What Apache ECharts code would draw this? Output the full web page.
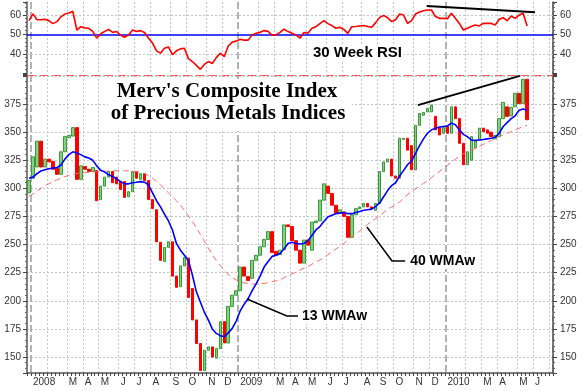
<!DOCTYPE html>
<html><head><meta charset="utf-8">
<script src="https://cdn.jsdelivr.net/npm/echarts@6/dist/echarts.min.js"></script>
<style>html,body{margin:0;padding:0;background:#fff}#c{width:583px;height:391px}</style>
</head><body><div id="c"></div>
<script>
// ---- data ----
const weekCount = 132;               // weekly slots, first slot = week ending 2007-12-28
const firstWeek = [2007, 11, 28];
const monthLabels = [[1,'2008'],[10,'M'],[14,'A'],[18,'M'],[23,'J'],[27,'J'],[31,'A'],[36,'S'],[40,'O'],[45,'N'],[49,'D'],
  [53,'2009'],[62,'M'],[66,'A'],[70,'M'],[75,'J'],[79,'J'],[84,'A'],[88,'S'],[92,'O'],[97,'N'],[101,'D'],
  [105,'2010'],[114,'M'],[118,'A'],[123,'M'],[127,'J']];
const monthStarts = [5,10,14,18,23,27,31,36,40,45,49,58,62,66,70,75,79,84,88,92,97,101,110,114,118,123,127,131];
const yearStarts = [1,53,105];
const priceLabels = [150,175,200,225,250,275,300,325,350,375];
const rsiLabels = [40,50,60];
const rsiGrid = [40,60];
const rsiMid = 50;

const opens = [296,309,319,342,319,326,324,318,312.5,332.5,345,346.5,354,308,319.5,317,315,316,290,302,310,315,310,306,
  306,292.5,297,315,308,313,307,290,281,252,235,247.5,252.5,222,212.5,231,238,211,183,162,138,156,159,149,157.5,181.5,
  162.5,195,205,209,230,221.5,220,236,240.5,248,254.5,261.5,244,241,245.5,267.5,266,253.5,245,233.5,254,245,269.5,271,
  289.5,302,295.5,285,278,279,275,256.5,276.5,282,283.5,286.5,283.5,280.5,286.5,315,323.5,326,311,309,343.5,344.5,338,
  316.5,356,365,368,368,364,354,349,355,349,372.5,362,340,321,325,336,343,353.5,352,350,344,346,362,372.5,364.5,372.5,
  384.5,375.5,397];
const closes = [307,328,342,319,326,323.5,317,312.5,332.5,346,347,354,308,320,317,315,318.5,289,302,310,315,305,304,299,
  292,297,315,309,313,307,290,282,252.5,236,247.5,252.5,222,212,231,238.5,203,183,162,138,156,159,150,157.5,181.5,162.5,
  195,205,209,230,222,218,236,240.5,248,254.5,261.5,243,240.5,245,267.5,266,253.5,245,233.5,254,249.5,270,271,289.5,
  304,295.5,285,278,281,275,256.5,276.5,282,283.5,286.5,283.5,282,286.5,315,323.5,326,311,309,344.5,344.5,334,316.5,
  356,366.5,367.5,371,374,352,347.5,354,349,372.5,362,340,321,332.5,346,343,353.5,350.5,349,346,347,362,376.5,364,372,
  384.5,375.5,397,361];
const wma13 = [309,310,313,315.5,316.5,317.5,318,318.5,320.5,326,330,332.5,331.5,330,328,327,325,320,316,314.5,312,310.5,
  308.5,306,304,304,305,305.5,306,305.5,303,296,289,283.5,277,271,263,251,245,240.5,236,223,208,199,190,183,175,171,169,
  168,171.5,175.5,182,191,197,202,209,215,222,230,235,239.5,240.5,242,246,251,252,251,250.5,251,253.5,258,263,266,270.5,
  274.5,276,277.5,278,278.5,277.5,277.5,278.5,279.5,280.5,281,281.5,284,287,292.5,298,302.5,305,311,316,321,324.5,331,
  338,344,349,352,353.5,354.5,355,355.5,358,356.5,352,348,346,343,342.5,343,343.5,344,344.5,345.5,349,355,358.5,362,
  364.5,369.5,370.5,369.5];
const wma40 = [293,295,297.5,300,302.5,304,306,307.5,309,310.5,311.5,312.5,313.3,313.8,314,314.3,314.5,314.8,315,315.2,
  315.4,315.6,315.7,315.7,315.6,315.5,315.3,315,314.2,313,311.5,309,306,303,299.5,296,292.5,289,285,280.5,275.5,270.5,
  265,259,253,247,241,236,231.5,227,223.5,220.5,218.5,217,216,215.5,215,215,215,215.5,216,217,217.8,218.5,220.5,222.5,
  224,225.5,227.4,229,230.5,232.5,234.5,236.3,238.5,241,243.5,246,248.5,251,254,257,259.5,262,265,268,270.5,273,275.5,
  278.5,281.5,283.5,285,288,291,294.5,297,299.5,302,304.5,306.5,309.5,312.5,315,318,320.5,323.5,326,328.5,331,332.5,
  334,335.5,337.5,339,341,342.5,344.5,346,347.5,349,350.5,352,353.5,355,356];
const rsi = [57,60.5,57.5,57.5,57.7,57,55.5,56.5,59,60.4,61,61.8,52.2,53.9,53.3,53.1,51.5,48,50.3,51.5,52.5,51,51.4,49.5,
  48.5,49.7,52.2,51.4,51.9,50.9,48,45.5,41.5,40.3,42.8,43.5,39.5,41.5,42.5,42.8,37.5,36,34,32,34.5,36,35,38,40.3,38.5,
  44,46,46.5,47.5,47,47,49.7,50.5,51,51.9,51.5,49.5,49.7,51,52.6,51.4,50.5,49.7,48,50.9,50.5,53.1,53.9,55.5,57,55.5,
  54.5,53.1,53.6,52.5,50.5,53.9,54,54.3,54.5,54,53.6,56,58.7,59.7,58.5,56.5,57.5,60.4,59.9,55.6,57,60.4,61.5,62.1,62.5,
  62.5,59.1,58.2,58.2,58,60.8,58.2,55.6,52.2,53.1,54,54.8,54.3,55.6,55.6,55.6,54.8,57.7,58.5,57,59.4,58.2,59.9,60.8,54.3];
// annotation anchors in data coordinates [week, value]
const trendMain = [[97.6,374],[123.2,400]];
const trendRsi = [[99.8,64.5],[127,61.3]];
const pointer13 = [[54.7,201.6],[64.7,186.5],[67.5,186.5]];
const pointer40 = [[84.8,265.6],[91.1,235.4],[94.4,235.4]];
const resistance = 400.4;

// ---- build ----
const cats = [];
for (let i = 0; i < weekCount; i++) {
  const d = new Date(Date.UTC(firstWeek[0], firstWeek[1], firstWeek[2] + 7 * i));
  cats.push(d.toISOString().slice(0, 10));
}
const labelMap = {}; monthLabels.forEach(([k, t]) => labelMap[k] = t);
const monthSet = new Set(monthStarts), yearSet = new Set(yearStarts);
const candles = opens.map((o, i) => [o, closes[i], Math.min(o, closes[i]), Math.max(o, closes[i])]);

const FONT = 'Liberation Sans, Arial, sans-serif';
const gridDot = {color: '#c4c4c4', width: 1, type: [2, 2]};
const yearLine = {color: '#9a9a9a', width: 1.5, type: [7, 3]};
const axisCol = '#555';

function catAxis(grid, kind) {
  const main = kind === 'main';
  const yr = kind === 'year';
  return {
    type: 'category', gridIndex: grid, data: cats, boundaryGap: true,
    axisLine: {show: main, lineStyle: {color: axisCol, width: 1.5}},
    axisTick: {show: main, interval: 0, length: 3, lineStyle: {color: '#444'}},
    axisLabel: {show: main, interval: 0, margin: 4, align: 'left', fontFamily: FONT, fontSize: 10, color: '#333',
      formatter: (v, i) => labelMap[i] || ''},
    splitLine: {show: true, interval: yr ? (i) => yearSet.has(i) : (i) => monthSet.has(i),
      lineStyle: yr ? yearLine : gridDot}
  };
}
function valAxis(grid, pos, min, max, step, labels, split) {
  return {
    type: 'value', gridIndex: grid, position: pos, min: min, max: max, minInterval: step, maxInterval: step,
    axisLine: {show: true, lineStyle: {color: axisCol, width: 1.5}},
    axisTick: {show: true, length: 4, lineStyle: {color: '#444'}},
    minorTick: {show: true, splitNumber: 5, length: 2, lineStyle: {color: '#666'}},
    axisLabel: {margin: pos === 'left' ? 6 : 7, fontFamily: FONT, fontSize: 10, color: '#333',
      formatter: v => labels.indexOf(Math.round(v * 10) / 10) >= 0 ? String(v) : ''},
    splitLine: {show: split, lineStyle: gridDot}
  };
}

const chart = echarts.init(document.getElementById('c'), null, {renderer: 'canvas'});
chart.setOption({
  animation: false,
  backgroundColor: '#fff',
  grid: [
    {left: 27, right: 30, top: 2, height: 72},
    {left: 27, right: 30, top: 75, height: 298}
  ],
  xAxis: [catAxis(0, 'rsi'), catAxis(0, 'year'), catAxis(1, 'main'), catAxis(1, 'year')],
  yAxis: [
    valAxis(0, 'left', 29.6, 66.6, 10, rsiLabels, false),
    valAxis(0, 'right', 29.6, 66.6, 10, rsiLabels, false),
    valAxis(1, 'left', 135.8, 400.8, 25, priceLabels, true),
    valAxis(1, 'right', 135.8, 400.8, 25, priceLabels, false)
  ],
  series: [
    {type: 'line', name: 'RSI', xAxisIndex: 0, yAxisIndex: 0, data: rsi, showSymbol: false,
      lineStyle: {color: '#ff0000', width: 1.6}, z: 5,
      markLine: {silent: true, symbol: 'none', label: {show: false},
        data: rsiGrid.map(v => ({yAxis: v, lineStyle: gridDot})).concat(
          [{yAxis: rsiMid, lineStyle: {color: '#0000ff', width: 1.6, type: 'solid'}}])}},
    {type: 'candlestick', name: 'Index', xAxisIndex: 2, yAxisIndex: 2, data: candles, barWidth: 3,
      itemStyle: {color: '#86d086', color0: '#ff0000', borderColor: '#3a9a3a', borderColor0: '#ff0000', borderWidth: 1},
      markLine: {silent: true, symbol: 'none', label: {show: false},
        lineStyle: {color: '#ff5a5a', width: 1.2, type: [8, 5]}, data: [{yAxis: resistance}]}},
    {type: 'line', name: '40 WMAw', xAxisIndex: 2, yAxisIndex: 2, data: wma40, showSymbol: false,
      lineStyle: {color: '#ff6a6a', width: 1, type: [6, 4]}, z: 3},
    {type: 'line', name: '13 WMAw', xAxisIndex: 2, yAxisIndex: 2, data: wma13, showSymbol: false,
      lineStyle: {color: '#0000ff', width: 1.6}, z: 4}
  ]
});

function px(ax, ay, k, v) {
  const k0 = Math.floor(k), f = k - k0;
  const a = chart.convertToPixel({xAxisIndex: ax, yAxisIndex: ay}, [k0, v]);
  const b = chart.convertToPixel({xAxisIndex: ax, yAxisIndex: ay}, [k0 + 1, v]);
  return [a[0] + (b[0] - a[0]) * f, a[1]];
}
function poly(ax, ay, pts, w) {
  return {type: 'polyline', z: 50, shape: {points: pts.map(p => px(ax, ay, p[0], p[1]))},
    style: {stroke: '#000', lineWidth: w, fill: null}};
}
const p13 = px(2, 2, pointer13[2][0], pointer13[2][1]);
const p40 = px(2, 2, pointer40[2][0], pointer40[2][1]);
const txt = (x, y, t, font, align) => ({type: 'text', z: 60, x: x, y: y,
  style: {text: t, font: font, fill: '#000', align: align || 'left', verticalAlign: 'middle',
    backgroundColor: '#fff', padding: [1, 2]}});

chart.setOption({
  graphic: [
    {type: 'rect', z: 40, shape: {x: 108, y: 79, width: 244, height: 52}, style: {fill: '#fff'}},
    txt(227, 92, "Merv's Composite Index", 'bold 21px "Liberation Serif", "Times New Roman", serif', 'center'),
    txt(228, 114, 'of Precious Metals Indices', 'bold 21px "Liberation Serif", "Times New Roman", serif', 'center'),
    txt(311, 53, '30 Week RSI', 'bold 15px "Liberation Sans", Arial, sans-serif'),
    poly(2, 2, trendMain, 2),
    poly(0, 0, trendRsi, 2),
    poly(2, 2, pointer13, 1.5),
    poly(2, 2, pointer40, 1.5),
    txt(p13[0] + 2, p13[1], '13 WMAw', 'bold 14px "Liberation Sans", Arial, sans-serif'),
    txt(p40[0] + 3, p40[1], '40 WMAw', 'bold 14px "Liberation Sans", Arial, sans-serif')
  ]
});
</script></body></html>
